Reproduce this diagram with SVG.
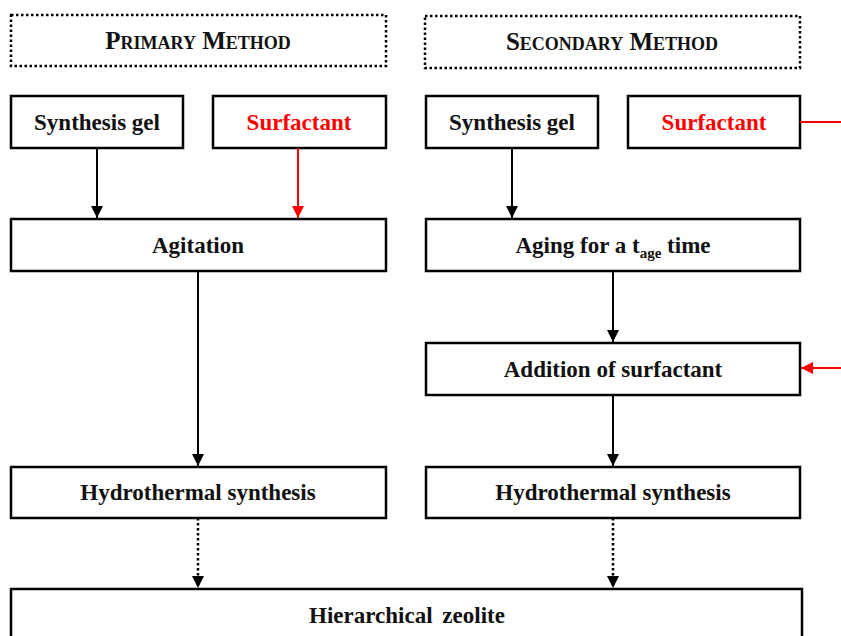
<svg xmlns="http://www.w3.org/2000/svg" width="841" height="636" viewBox="0 0 841 636">
<style>
.box{fill:#fff;stroke:#000;stroke-width:2.5}
.hdr{fill:#fff;stroke:#000;stroke-width:2.5;stroke-dasharray:2.5 2.5}
text{font-family:"Liberation Serif","Times New Roman",serif;font-weight:bold;font-size:23px;text-anchor:middle;fill:#111}
.red{fill:#ff0000}
.sc{font-variant:small-caps;font-size:25px}
.ln{stroke:#000;stroke-width:2;fill:none}
.rl{stroke:#ff0000;stroke-width:2;fill:none}
.dot{stroke:#000;stroke-width:2.5;stroke-dasharray:2.5 2.5;fill:none}
</style>
<defs>
<marker id="abig" viewBox="0 0 10 10" refX="10" refY="5" markerWidth="12" markerHeight="12" orient="auto" markerUnits="userSpaceOnUse"><path d="M0,0 L10,5 L0,10 z" fill="#000"/></marker>
<marker id="arbig" viewBox="0 0 10 10" refX="10" refY="5" markerWidth="12" markerHeight="12" orient="auto" markerUnits="userSpaceOnUse"><path d="M0,0 L10,5 L0,10 z" fill="#ff0000"/></marker>
</defs>
<g id="primary-header"><rect class="hdr" x="11" y="15" width="375" height="51"/><text class="sc" x="198" y="49">Primary Method</text></g>
<g id="secondary-header"><rect class="hdr" x="425" y="16" width="375" height="52"/><text class="sc" x="612" y="50">Secondary Method</text></g>
<g id="gel1"><rect class="box" x="11" y="96" width="172" height="52"/><text x="97" y="130">Synthesis gel</text></g>
<g id="surf1"><rect class="box" x="213" y="96" width="173" height="52"/><text class="red" x="299" y="130">Surfactant</text></g>
<g id="gel2"><rect class="box" x="426" y="96" width="172" height="52"/><text x="512" y="130">Synthesis gel</text></g>
<g id="surf2"><rect class="box" x="628" y="96" width="172" height="52"/><text class="red" x="714" y="130">Surfactant</text></g>
<g id="agitation"><rect class="box" x="11" y="219" width="375" height="52"/><text x="198" y="253">Agitation</text></g>
<g id="aging"><rect class="box" x="426" y="219" width="374" height="52"/><text x="613" y="253">Aging for a t<tspan font-size="15" dy="5">age</tspan><tspan dy="-5"> time</tspan></text></g>
<g id="addition"><rect class="box" x="426" y="343" width="374" height="52"/><text x="613" y="377">Addition of surfactant</text></g>
<g id="hydro1"><rect class="box" x="11" y="467" width="375" height="51"/><text x="198" y="500">Hydrothermal synthesis</text></g>
<g id="hydro2"><rect class="box" x="426" y="467" width="374" height="51"/><text x="613" y="500">Hydrothermal synthesis</text></g>
<g id="zeolite"><rect class="box" x="11" y="589" width="791" height="60"/><text x="407" y="623" word-spacing="4">Hierarchical zeolite</text></g>
<g id="connectors">
<line class="ln" x1="97" y1="148" x2="97" y2="218" marker-end="url(#abig)"/>
<line class="rl" x1="298" y1="148" x2="298" y2="218" marker-end="url(#arbig)"/>
<line class="ln" x1="198" y1="271" x2="198" y2="466" marker-end="url(#abig)"/>
<line class="ln" x1="512" y1="148" x2="512" y2="218" marker-end="url(#abig)"/>
<line class="ln" x1="613" y1="271" x2="613" y2="342" marker-end="url(#abig)"/>
<line class="ln" x1="613" y1="395" x2="613" y2="466" marker-end="url(#abig)"/>
<line class="dot" x1="198" y1="518" x2="198" y2="588" marker-end="url(#abig)"/>
<line class="dot" x1="613" y1="518" x2="613" y2="588" marker-end="url(#abig)"/>
<line class="rl" x1="800" y1="122" x2="841" y2="122"/>
<line class="rl" x1="841" y1="368" x2="801" y2="368" marker-end="url(#arbig)"/>
</g>
</svg>
